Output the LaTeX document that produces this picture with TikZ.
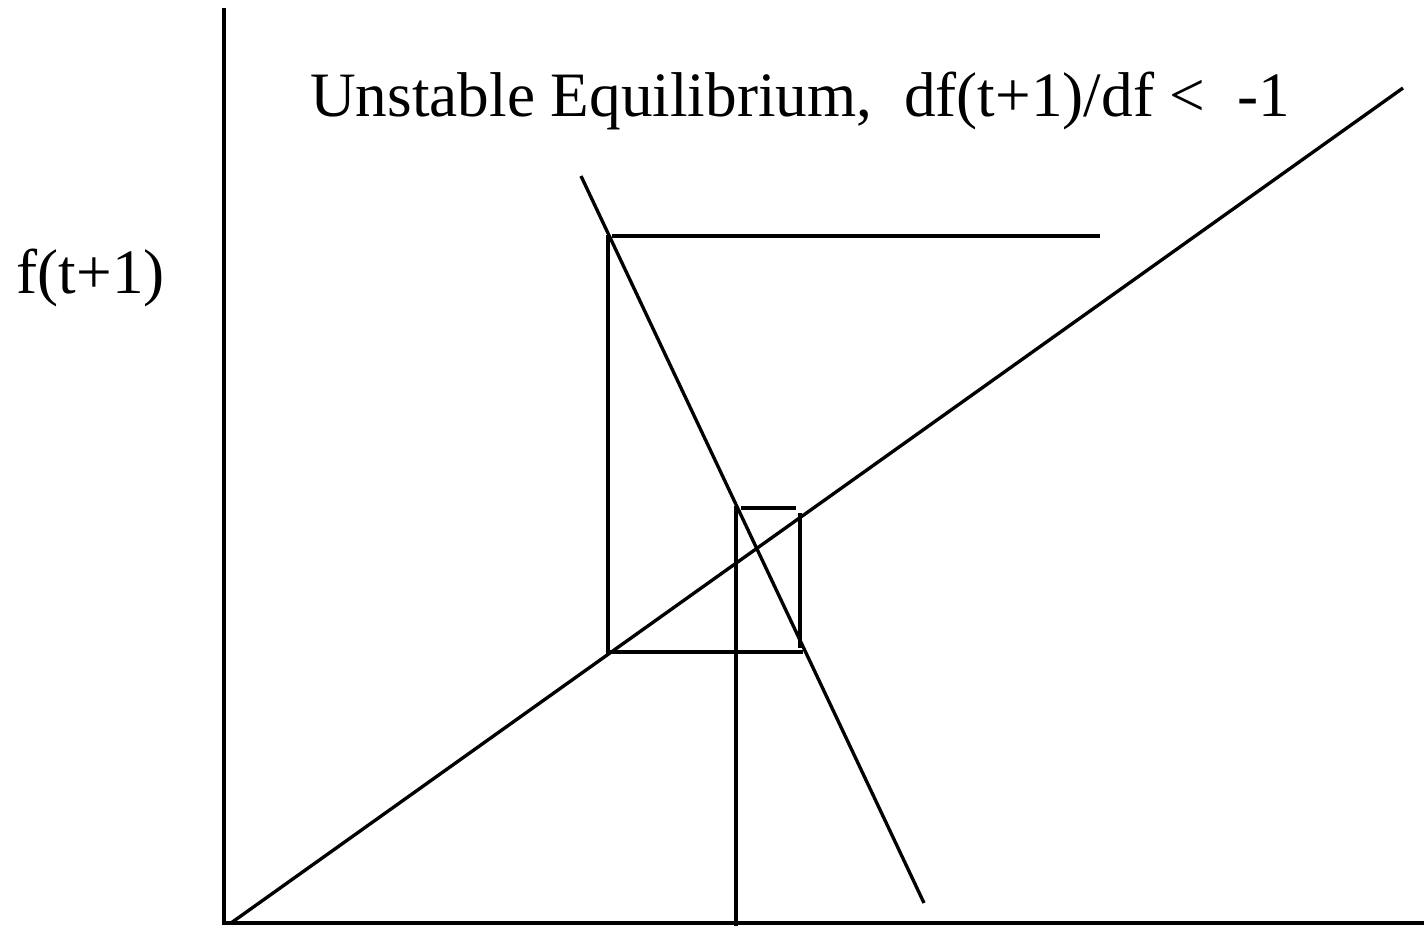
\documentclass[tikz,border=0pt]{standalone}
\usepackage{fontspec}
\setmainfont{Liberation Serif}
\usetikzlibrary{calc}

\begin{document}
\begin{tikzpicture}[x=0.02cm, y=-0.02cm, line width=1.9pt,
  lbl/.style={inner sep=0pt, font=\fontsize{36}{42}\selectfont}]

\useasboundingbox (0,0) rectangle (1424,926);

\coordinate (O)   at (224, 923);
\coordinate (Ytop) at (224, 8);
\coordinate (Xend) at (1424, 923);

%-- axes
\draw[line width=2.3pt] (Ytop)--(O)--(Xend);

%-- 45 degree line and the map
\coordinate (Da) at (231, 923);
\coordinate (Db) at (1403, 88);
\coordinate (Ma) at (581, 176);
\coordinate (Mb) at (924, 903);
\draw (Da)--(Db);
\draw (Ma)--(Mb);

%-- cobweb steps
\draw (736, 926)--(736, 506);
\draw (741, 508)--(796, 508);
\draw (800, 513)--(800, 648);
\draw (606, 652)--(803, 652);
\draw (608, 652)--(608, 235);
\draw (612, 236)--(1100, 236);

\node[lbl, anchor=base] (title) at (800, 117)
  {Unstable Equilibrium,\ \ df(t+1)/df <\ \ -1};
\node[lbl, anchor=base west] (ylab) at (15, 293) {f(t+1)};

\end{tikzpicture}
\end{document}
